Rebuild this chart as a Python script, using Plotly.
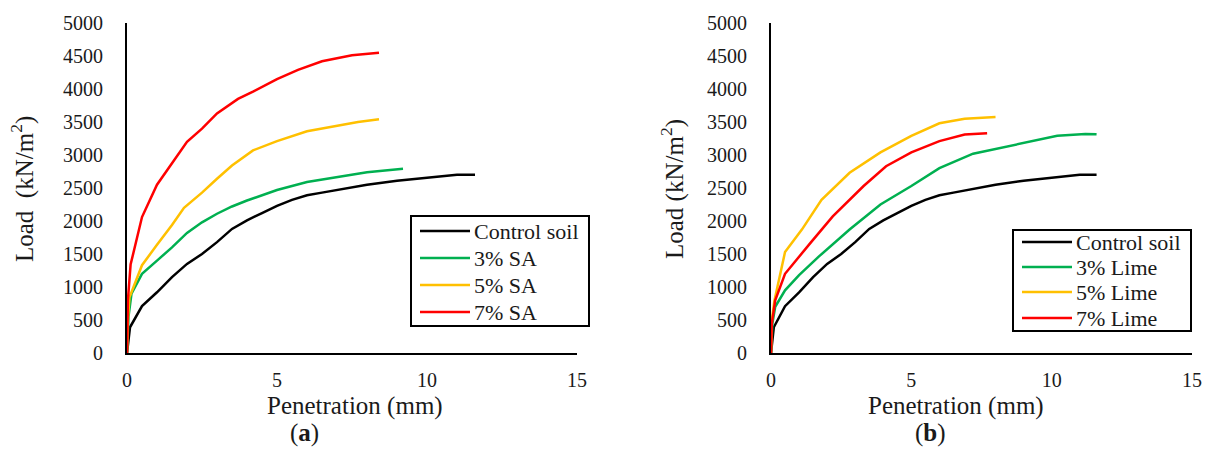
import plotly.graph_objects as go

# ---------------- data ----------------
ctrl_x = [0, 0.05, 0.1, 0.5, 1.0, 1.5, 2.0, 2.5, 3.0, 3.5, 4.0, 4.5, 5.0, 5.5, 6.0, 6.5, 7.0, 8.0, 9.0, 10.0, 11.0, 11.6]
ctrl_y = [0, 220, 390, 710, 920, 1150, 1350, 1500, 1680, 1880, 2010, 2120, 2230, 2320, 2390, 2430, 2470, 2550, 2610, 2650, 2700, 2700]

sa3_x = [0, 0.05, 0.15, 0.5, 1.0, 1.5, 2.0, 2.5, 3.0, 3.5, 4.0, 5.0, 6.0, 7.0, 8.0, 9.2]
sa3_y = [0, 550, 900, 1200, 1400, 1600, 1820, 1980, 2110, 2220, 2310, 2470, 2590, 2670, 2740, 2790]

sa5_x = [0, 0.03, 0.08, 0.5, 1.0, 1.5, 1.9, 2.5, 3.0, 3.5, 4.2, 5.0, 6.0, 7.0, 7.7, 8.4]
sa5_y = [0, 500, 840, 1330, 1640, 1940, 2200, 2430, 2640, 2840, 3070, 3210, 3360, 3440, 3500, 3540]

sa7_x = [0, 0.03, 0.12, 0.5, 1.0, 1.3, 2.0, 2.5, 3.0, 3.7, 4.2, 5.0, 5.7, 6.5, 7.5, 8.4]
sa7_y = [0, 800, 1340, 2060, 2550, 2750, 3200, 3400, 3630, 3850, 3960, 4150, 4290, 4420, 4510, 4550]

lime3_x = [0, 0.05, 0.15, 0.5, 1.0, 1.7, 2.8, 3.9, 5.0, 6.0, 7.2, 8.8, 10.2, 11.2, 11.6]
lime3_y = [0, 450, 700, 950, 1180, 1460, 1870, 2250, 2530, 2800, 3020, 3160, 3290, 3320, 3315]

lime5_x = [0, 0.03, 0.12, 0.5, 1.1, 1.8, 2.8, 3.9, 5.0, 6.0, 6.9, 8.0]
lime5_y = [0, 500, 790, 1530, 1870, 2320, 2730, 3040, 3290, 3480, 3550, 3575]

lime7_x = [0, 0.03, 0.15, 0.5, 1.4, 2.2, 3.3, 4.1, 5.0, 6.0, 6.9, 7.7]
lime7_y = [0, 450, 800, 1200, 1665, 2070, 2530, 2830, 3040, 3210, 3310, 3330]

names_a = ["Control soil", "3% SA", "5% SA", "7% SA"]
names_b = ["Control soil", "3% Lime", "5% Lime", "7% Lime"]
colors = ["#000000", "#00B050", "#FFC000", "#FF0000"]
x_ticks = [0, 5, 10, 15]
y_ticks = [0, 500, 1000, 1500, 2000, 2500, 3000, 3500, 4000, 4500, 5000]

FONT = "Liberation Serif"
TXT = "#1a1a1a"
W, H = 1207, 457

fig = go.Figure()

series_a = [(ctrl_x, ctrl_y), (sa3_x, sa3_y), (sa5_x, sa5_y), (sa7_x, sa7_y)]
series_b = [(ctrl_x, ctrl_y), (lime3_x, lime3_y), (lime5_x, lime5_y), (lime7_x, lime7_y)]

for (xs, ys), nm, c in zip(series_a, names_a, colors):
    fig.add_trace(go.Scatter(x=xs, y=ys, name=nm, mode="lines", showlegend=False,
                             line=dict(color=c, width=2.5),
                             xaxis="x", yaxis="y"))
for (xs, ys), nm, c in zip(series_b, names_b, colors):
    fig.add_trace(go.Scatter(x=xs, y=ys, name=nm, mode="lines", showlegend=False,
                             line=dict(color=c, width=2.5),
                             xaxis="x2", yaxis="y2"))

def px_x(p):
    return p / W

def px_y(p):
    return 1 - p / H

axis_common = dict(showline=True, linecolor="black", linewidth=2, showgrid=False,
                   zeroline=False, ticks="", automargin=False,
                   tickfont=dict(family=FONT, size=20, color=TXT))

ydom = [px_y(353), px_y(23)]
fig.update_layout(
    width=W, height=H,
    margin=dict(l=0, r=0, t=0, b=0, autoexpand=False),
    paper_bgcolor="white", plot_bgcolor="white",
    font=dict(family=FONT, color=TXT),
    showlegend=False,
    xaxis=dict(domain=[px_x(127), px_x(577)], range=[0, 15], tickvals=x_ticks,
               anchor="y", ticklabelstandoff=8, **axis_common),
    yaxis=dict(domain=ydom, range=[0, 5000], tickvals=y_ticks,
               anchor="x", ticklabelstandoff=18, **axis_common),
    xaxis2=dict(domain=[px_x(771), px_x(1192)], range=[0, 15], tickvals=x_ticks,
                anchor="y2", ticklabelstandoff=8, **axis_common),
    yaxis2=dict(domain=ydom, range=[0, 5000], tickvals=y_ticks,
                anchor="x2", ticklabelstandoff=18, **axis_common),
)

# ---- legend boxes (drawn in paper space) ----
def draw_legend(box, rows, line_x, text_x, names):
    x0, y0, x1, y1 = box
    fig.add_shape(type="rect", xref="paper", yref="paper",
                  x0=px_x(x0), x1=px_x(x1), y0=px_y(y1), y1=px_y(y0),
                  line=dict(color="black", width=2), fillcolor="white", layer="above")
    for ry, nm, c in zip(rows, names, colors):
        fig.add_shape(type="line", xref="paper", yref="paper",
                      x0=px_x(line_x[0]), x1=px_x(line_x[1]), y0=px_y(ry), y1=px_y(ry),
                      line=dict(color=c, width=2.5), layer="above")
        fig.add_annotation(text=nm, xref="paper", yref="paper", showarrow=False,
                           x=px_x(text_x), y=px_y(ry), xanchor="left", yanchor="middle",
                           font=dict(family=FONT, size=22, color=TXT))

draw_legend((411, 216, 589, 326), [231, 258, 285, 312], (420, 470), 472, names_a)
draw_legend((1013, 230, 1191, 331), [242, 267, 292, 318], (1022, 1072), 1074, names_b)

ann_font = dict(family=FONT, size=25, color=TXT)
annotations = [
    dict(text="Load  (kN/m<sup>2</sup>)", x=px_x(22), y=px_y(189), textangle=-90),
    dict(text="Load (kN/m<sup>2</sup>)", x=px_x(672), y=px_y(189), textangle=-90),
    dict(text="Penetration (mm)", x=px_x(355), y=px_y(406)),
    dict(text="Penetration (mm)", x=px_x(956), y=px_y(406)),
    dict(text="(<b>a</b>)", x=px_x(304), y=px_y(433)),
    dict(text="(<b>b</b>)", x=px_x(930), y=px_y(433)),
]
for a in annotations:
    fig.add_annotation(xref="paper", yref="paper", showarrow=False,
                       xanchor="center", yanchor="middle", font=ann_font, **a)

fig.write_html("out.html", config={"displayModeBar": False},
               post_script="document.body.style.margin='0';document.body.style.padding='0';")
